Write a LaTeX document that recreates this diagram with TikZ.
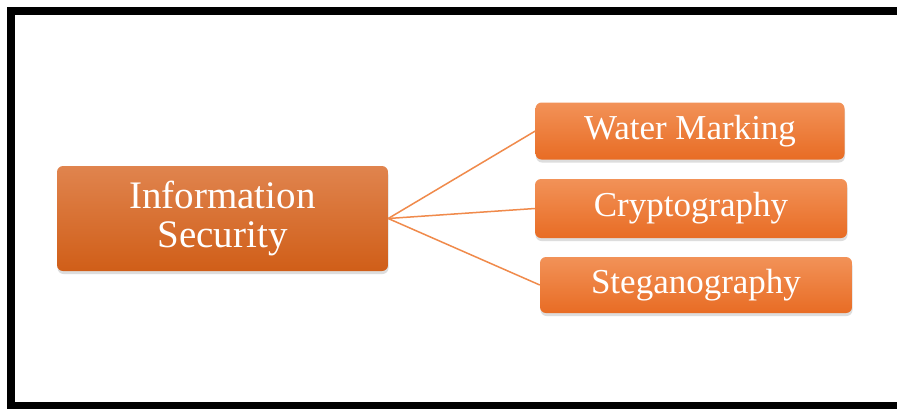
\documentclass[tikz,border=0pt]{standalone}
\usepackage{fontspec}
\setmainfont{Liberation Serif}
\usetikzlibrary{shadows}
\definecolor{hubtop}{HTML}{E0844E}
\definecolor{hubbot}{HTML}{D05E18}
\definecolor{leaftop}{HTML}{F29258}
\definecolor{leafbot}{HTML}{E86C24}
\definecolor{linkc}{HTML}{F08A4B}
\tikzset{
  x=1pt, y=-1pt,
  boxbase/.style={draw=none, rounded corners=6pt, inner sep=0pt,
    align=center, text=white,
    drop shadow={shadow xshift=0.5pt, shadow yshift=-3pt, opacity=0.22, fill=black!60}},
  hub/.style={boxbase, top color=hubtop, bottom color=hubbot,
    minimum width=331pt, minimum height=105pt, font=\fontsize{39}{39}\selectfont},
  leaf/.style={boxbase, top color=leaftop, bottom color=leafbot,
    minimum width=309pt, minimum height=57pt, font=\fontsize{35}{38}\selectfont},
  link/.style={draw=linkc, line width=1.5pt},
}
\begin{document}
\begin{tikzpicture}
\useasboundingbox (0,0) rectangle (897,408);
\begin{scope}
\clip (0,0) rectangle (897,408);
\fill[white] (0,0) rectangle (897,408);
% outer frame, its right side runs past the page edge
\draw[line width=8pt] (11,11) rectangle (930,406);
\end{scope}

\node[hub] (is) at (222.5,218.5) {Information\\Security};
\node[leaf] (wm) at (690,131) {Water Marking};
\node[leaf, minimum width=312pt, minimum height=59pt] (cr) at (691,208.5) {Cryptography};
\node[leaf, minimum width=312pt, minimum height=56pt] (st) at (696,285) {Steganography};

\draw[link] (is.east) -- (wm.west);
\draw[link] (is.east) -- (cr.west);
\draw[link] (is.east) -- (st.west);
\end{tikzpicture}
\end{document}
